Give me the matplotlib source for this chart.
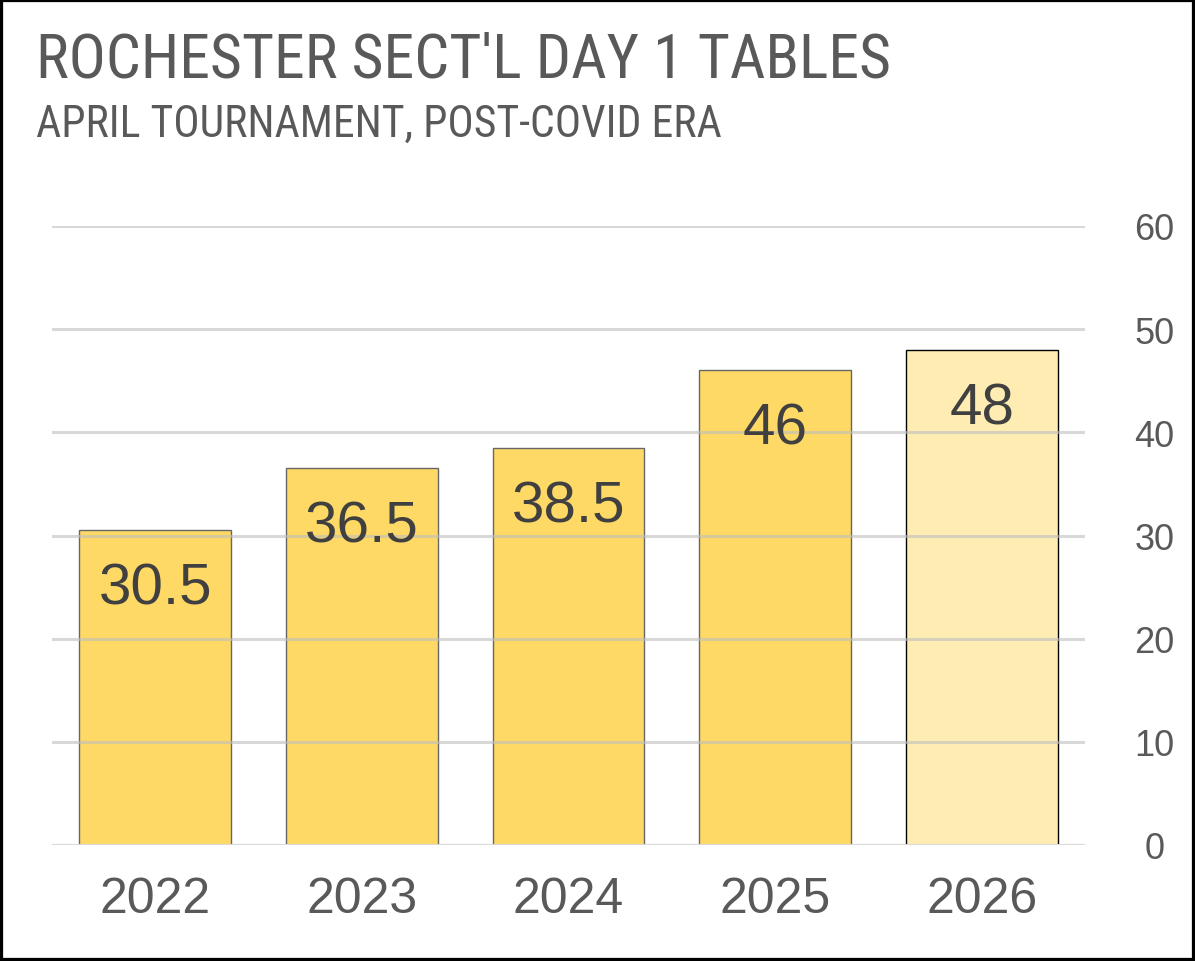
import matplotlib.pyplot as plt
from matplotlib.patches import Rectangle

# chart data
years = ["2022", "2023", "2024", "2025", "2026"]
tables = [30.5, 36.5, 38.5, 46, 48]
bar_labels = ["30.5", "36.5", "38.5", "46", "48"]
yticks = [0, 10, 20, 30, 40, 50, 60]

title = "ROCHESTER SECT'L DAY 1 TABLES"
subtitle = "APRIL TOURNAMENT, POST-COVID ERA"

plt.rcParams['font.family'] = ['Liberation Sans', 'DejaVu Sans']
narrow = ['Roboto Condensed', 'Liberation Sans', 'DejaVu Sans']

fig = plt.figure(figsize=(11.95, 9.62), dpi=100)
ax = fig.add_axes([52/1195, 1 - 846/962, 1033/1195, (846-227)/962])

colors = ['#FFD966'] * 4 + ['#FFECB3']
edges = ['#666666'] * 4 + ['#000000']
x = range(len(years))
ax.bar(x, tables, width=0.735, color=colors, edgecolor=edges, linewidth=1.0, zorder=2)

for i, v in enumerate(tables):
    ax.annotate(bar_labels[i], (i, v), xytext=(0, -42), textcoords='offset points',
                ha='center', va='center', fontsize=42, color='#404040', zorder=4)

ax.set_xlim(-0.5, 4.5)
ax.set_ylim(0, 60)
ax.set_yticks(yticks)
ax.yaxis.tick_right()
ax.set_xticks(list(x))
ax.set_xticklabels(years)
ax.tick_params(axis='x', length=0, pad=22, labelsize=36, labelcolor='#595959')
ax.tick_params(axis='y', length=0, pad=50, labelsize=26, labelcolor='#595959')
for t in ax.get_yticklabels():
    t.set_horizontalalignment('center')

ax.grid(axis='y', color='#BFBFBF', linewidth=2.2, alpha=0.6, zorder=3)
ax.set_axisbelow(False)
for s in ax.spines.values():
    s.set_visible(False)
ax.axhline(0, color='#D9D9D9', linewidth=2.2, zorder=3)

fig.text(36/1195, 1 - 77/962, title, fontsize=44.5, color='#595959', family=narrow, va='baseline')
fig.text(36/1195, 1 - 137/962, subtitle, fontsize=31.5, color='#595959', family=narrow, va='baseline')

fig.patches.append(Rectangle((0, 0), 1, 1, transform=fig.transFigure, fill=False,
                             edgecolor='black', linewidth=4.5, zorder=10))

fig.savefig("out.png", dpi=100)
